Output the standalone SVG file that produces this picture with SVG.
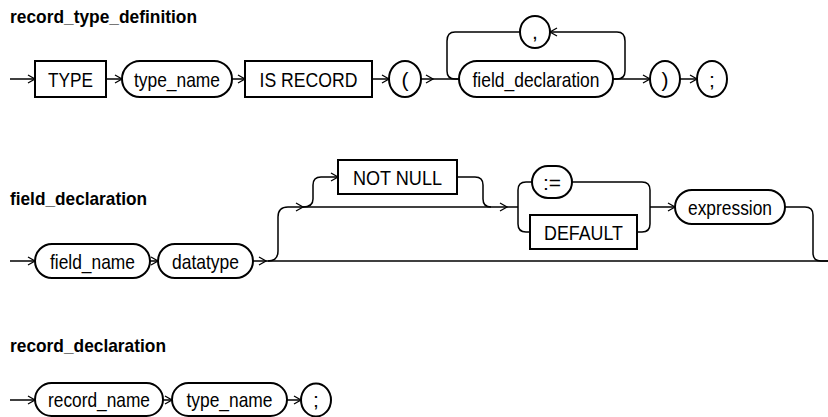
<svg xmlns="http://www.w3.org/2000/svg" width="828" height="417" viewBox="0 0 828 417">
<defs>
<marker id="ah" markerUnits="userSpaceOnUse" markerWidth="10" markerHeight="10" refX="8" refY="5" orient="auto">
<path d="M1,1 L8,5 L1,9" fill="none" stroke="#000" stroke-width="1.3"/>
</marker>
<style>
.bg{fill:#fff}
.box{fill:#fff;stroke:#000;stroke-width:2}
.ov{fill:#fff;stroke:#000;stroke-width:2}
.ln{fill:none;stroke:#000;stroke-width:1.5}
.ar{fill:none;stroke:#000;stroke-width:1.5;marker-end:url(#ah)}
.t{font-family:"Liberation Sans",Arial,sans-serif;font-size:21px;fill:#000;text-anchor:middle}
.h{font-family:"Liberation Sans",Arial,sans-serif;font-size:19px;font-weight:bold;fill:#000}
</style>
</defs>
<rect class="bg" x="0" y="0" width="828" height="417"/>

<text class="h" x="10" y="23" textLength="187" lengthAdjust="spacingAndGlyphs">record_type_definition</text>
<text class="h" x="10" y="205" textLength="137" lengthAdjust="spacingAndGlyphs">field_declaration</text>
<text class="h" x="10" y="352" textLength="156" lengthAdjust="spacingAndGlyphs">record_declaration</text>

<g id="connectors">
<!-- record_type_definition -->
<path class="ar" d="M10,79 H35"/>
<path class="ar" d="M106,79 H122"/>
<path class="ar" d="M232,79 H245"/>
<path class="ar" d="M372,79 H389"/>
<path class="ar" d="M421,79 H433"/>
<path class="ln" d="M433,79 H459"/>
<path class="ar" d="M613,79 H617 Q625,79 625,71 V41 Q625,32 617,32 H550"/>
<path class="ln" d="M520,32 H455 Q447,32 447,41 V71 Q447,79 455,79 H459"/>
<path class="ar" d="M613,79 H650"/>
<path class="ar" d="M680,79 H697"/>
<!-- field_declaration -->
<path class="ar" d="M10,261 H35"/>
<path class="ar" d="M150,261 H158"/>
<path class="ar" d="M253,261 H266"/>
<path class="ln" d="M266,261 H828"/>
<path class="ar" d="M268,261 Q278,261 278,251 V217 Q278,207 288,207 H303"/>
<path class="ar" d="M303,207 Q313,207 313,199 V185 Q313,177 321,177 H338"/>
<path class="ar" d="M303,207 H507"/>
<path class="ln" d="M457,177 H475 Q483,177 483,185 V199 Q483,207 491,207"/>
<path class="ln" d="M507,207 H518"/>
<path class="ln" d="M532,182 H526 Q518,182 518,190 V224 Q518,232 526,232 H530"/>
<path class="ln" d="M572,182 H642 Q650,182 650,190 V224 Q650,232 642,232 H637"/>
<path class="ar" d="M650,207 H675"/>
<path class="ln" d="M785,207 H805 Q813,207 813,215 V253 Q813,261 821,261 H828"/>
<!-- record_declaration -->
<path class="ar" d="M10,400 H35"/>
<path class="ar" d="M163,400 H172"/>
<path class="ar" d="M287,400 H301"/>
</g>

<g id="n_type">
<rect class="box" x="35" y="61" width="71" height="36"/>
<text class="t" x="70.5" y="86.5" textLength="45" lengthAdjust="spacingAndGlyphs">TYPE</text>
</g>
<g id="n_type_name">
<rect class="ov" x="122" y="61" width="110" height="36" rx="18"/>
<text class="t" x="177" y="86.5" textLength="86" lengthAdjust="spacingAndGlyphs">type_name</text>
</g>
<g id="n_is_record">
<rect class="box" x="245" y="61" width="127" height="36"/>
<text class="t" x="308.5" y="86.5" textLength="98" lengthAdjust="spacingAndGlyphs">IS RECORD</text>
</g>
<g id="n_lparen">
<ellipse class="ov" cx="405" cy="79" rx="16" ry="18"/>
<text class="t" x="405" y="86.5">(</text>
</g>
<g id="n_field_declaration">
<rect class="ov" x="459" y="61" width="154" height="36" rx="18"/>
<text class="t" x="536" y="86.5" textLength="127" lengthAdjust="spacingAndGlyphs">field_declaration</text>
</g>
<g id="n_comma">
<ellipse class="ov" cx="535" cy="32" rx="15" ry="16"/>
<text class="t" x="535" y="39">,</text>
</g>
<g id="n_rparen">
<ellipse class="ov" cx="665" cy="79" rx="15" ry="18"/>
<text class="t" x="665" y="86.5">)</text>
</g>
<g id="n_semi1">
<ellipse class="ov" cx="712" cy="79" rx="15" ry="18"/>
<text class="t" x="712" y="86.5">;</text>
</g>

<g id="n_field_name">
<rect class="ov" x="35" y="244" width="115" height="34" rx="17"/>
<text class="t" x="92.5" y="268.5" textLength="85" lengthAdjust="spacingAndGlyphs">field_name</text>
</g>
<g id="n_datatype">
<rect class="ov" x="158" y="244" width="95" height="34" rx="17"/>
<text class="t" x="205.5" y="268.5" textLength="67" lengthAdjust="spacingAndGlyphs">datatype</text>
</g>
<g id="n_not_null">
<rect class="box" x="338" y="160" width="119" height="34"/>
<text class="t" x="397.5" y="184.5" textLength="89" lengthAdjust="spacingAndGlyphs">NOT NULL</text>
</g>
<g id="n_assign">
<rect class="ov" x="532" y="166" width="40" height="32" rx="16"/>
<text class="t" x="552" y="189.5">:=</text>
</g>
<g id="n_default">
<rect class="box" x="530" y="215" width="107" height="34"/>
<text class="t" x="583.5" y="239.5" textLength="79" lengthAdjust="spacingAndGlyphs">DEFAULT</text>
</g>
<g id="n_expression">
<rect class="ov" x="675" y="190" width="110" height="34" rx="17"/>
<text class="t" x="730" y="214.5" textLength="84" lengthAdjust="spacingAndGlyphs">expression</text>
</g>

<g id="n_record_name">
<rect class="ov" x="35" y="383" width="128" height="33" rx="16.5"/>
<text class="t" x="99" y="407" textLength="102" lengthAdjust="spacingAndGlyphs">record_name</text>
</g>
<g id="n_type_name2">
<rect class="ov" x="172" y="383" width="115" height="33" rx="16.5"/>
<text class="t" x="229.5" y="407" textLength="86" lengthAdjust="spacingAndGlyphs">type_name</text>
</g>
<g id="n_semi2">
<ellipse class="ov" cx="316" cy="400" rx="15" ry="16.5"/>
<text class="t" x="316" y="407">;</text>
</g>
</svg>
